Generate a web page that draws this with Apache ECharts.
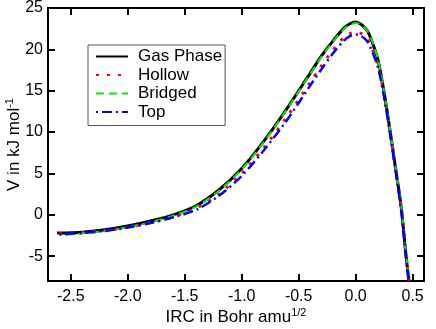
<!DOCTYPE html>
<html>
<head>
<meta charset="utf-8">
<script src="https://cdn.jsdelivr.net/npm/echarts@6/dist/echarts.min.js"></script>
<style>
  html, body { margin: 0; padding: 0; background: #fff; }
  #chart { width: 436px; height: 329px; }
</style>
</head>
<body>
<div id="chart"></div>
<script>
var chart = echarts.init(document.getElementById('chart'));

// IRC coordinate (Bohr amu^1/2)
var ircGas    = [-2.62, -2.4, -2.2, -2.0, -1.8, -1.6, -1.4, -1.2, -1.0, -0.8, -0.6, -0.4, -0.3, -0.2, -0.1, -0.05, 0.0, 0.05, 0.1, 0.15, 0.2, 0.25, 0.3, 0.35, 0.4, 0.44, 0.468];
var vGas      = [-2.2, -2.1, -1.8, -1.35, -0.75, 0.0, 1.1, 3.0, 5.6, 9.0, 12.9, 17.1, 19.2, 21.0, 22.6, 23.1, 23.3, 23.0, 22.3, 20.7, 18.5, 14.8, 10.4, 5.7, 0.9, -4.6, -8.0];

var ircHollow = [-2.6, -2.4, -2.2, -2.0, -1.8, -1.6, -1.4, -1.2, -1.0, -0.8, -0.6, -0.4, -0.3, -0.2, -0.1, -0.05, 0.0, 0.05, 0.1, 0.15, 0.2, 0.25, 0.3, 0.35, 0.4, 0.44, 0.468];
var vHollow   = [-2.3, -2.15, -1.9, -1.5, -0.95, -0.2, 0.8, 2.5, 5.0, 8.2, 11.9, 16.0, 18.0, 19.9, 21.5, 21.9, 22.1, 21.9, 21.3, 19.9, 17.9, 14.5, 10.2, 5.6, 0.8, -4.6, -8.0];

var ircBridged = [-2.55, -2.4, -2.2, -2.0, -1.8, -1.6, -1.4, -1.2, -1.0, -0.8, -0.6, -0.4, -0.3, -0.2, -0.1, -0.05, 0.0, 0.05, 0.1, 0.15, 0.2, 0.25, 0.3, 0.35, 0.4, 0.44, 0.47];
var vBridged   = [-2.4, -2.25, -1.95, -1.5, -0.9, -0.1, 1.0, 2.9, 5.5, 8.9, 12.8, 17.0, 19.1, 20.9, 22.5, 23.0, 23.2, 23.0, 22.3, 20.8, 18.6, 14.9, 10.5, 5.8, 1.1, -4.4, -8.0];

var ircTop    = [-2.6, -2.4, -2.2, -2.0, -1.8, -1.6, -1.4, -1.2, -1.0, -0.8, -0.6, -0.4, -0.3, -0.2, -0.1, -0.05, 0.0, 0.05, 0.1, 0.15, 0.2, 0.25, 0.3, 0.35, 0.4, 0.44, 0.466];
var vTop      = [-2.35, -2.2, -1.95, -1.55, -1.0, -0.3, 0.6, 2.3, 4.7, 7.9, 11.5, 15.6, 17.6, 19.5, 21.1, 21.6, 21.8, 21.6, 21.0, 19.6, 17.6, 14.2, 10.0, 5.4, 0.6, -4.8, -8.0];

var names = ['Gas Phase', 'Hollow', 'Bridged', 'Top'];

function pairs(xs, ys) {
    var res = [];
    for (var i = 0; i < xs.length; i++) {
        res.push([xs[i], ys[i]]);
    }
    return res;
}

var font = 'Liberation Sans, Arial, Helvetica, sans-serif';

var axisCommon = {
    axisLine: { show: true, onZero: false, lineStyle: { color: '#000', width: 2 } },
    axisTick: { show: true, inside: true, length: 7, lineStyle: { color: '#000', width: 2 } },
    splitLine: { show: false },
    minorTick: { show: false },
    nameMoveOverlap: false
};

var option = {
    animation: false,
    grid: { left: 48, top: 8, right: 12, bottom: 48, containLabel: false, outerBoundsMode: 'none' },
    legend: {
        data: names,
        orient: 'vertical',
        left: 88,
        top: 45,
        padding: [3, 3, 5, 7],
        itemWidth: 32,
        itemHeight: 14,
        itemGap: 1.5,
        backgroundColor: '#fff',
        borderColor: '#555',
        borderWidth: 1,
        selectedMode: false,
        itemStyle: { opacity: 0 },
        textStyle: { fontFamily: font, fontSize: 17, color: '#000', padding: [0, 0, 0, 5] }
    },
    xAxis: [
        Object.assign({}, axisCommon, {
            type: 'value',
            position: 'bottom',
            min: -2.7,
            max: 0.6,
            name: '{a|IRC in Bohr amu}{s|1/2}',
            nameLocation: 'middle',
            nameGap: 26,
            nameTextStyle: {
                rich: {
                    a: { fontFamily: font, fontSize: 17, color: '#000' },
                    s: { fontFamily: font, fontSize: 11, color: '#000', verticalAlign: 'top', padding: [0, 0, 9, 0] }
                }
            },
            axisLabel: {
                fontFamily: font, fontSize: 16, color: '#000', margin: 8,
                showMinLabel: false, showMaxLabel: false,
                formatter: function (v) { return v.toFixed(1); }
            }
        }),
        Object.assign({}, axisCommon, {
            type: 'value',
            position: 'top',
            min: -2.7,
            max: 0.6,
            axisLabel: { show: false }
        })
    ],
    yAxis: [
        Object.assign({}, axisCommon, {
            type: 'value',
            position: 'left',
            min: -8,
            max: 25,
            name: '{a|V in kJ mol}{s|-1}',
            nameLocation: 'middle',
            nameGap: 24,
            nameRotate: 90,
            nameTextStyle: {
                rich: {
                    a: { fontFamily: font, fontSize: 17, color: '#000' },
                    s: { fontFamily: font, fontSize: 11, color: '#000', verticalAlign: 'top', padding: [0, 0, 9, 0] }
                }
            },
            axisLabel: {
                fontFamily: font, fontSize: 16, color: '#000', margin: 5,
                showMinLabel: false
            }
        }),
        Object.assign({}, axisCommon, {
            type: 'value',
            position: 'right',
            min: -8,
            max: 25,
            axisLabel: { show: false }
        })
    ],
    series: [
        {
            name: 'Gas Phase', type: 'line', showSymbol: false, symbol: 'none', smooth: 0.3,
            data: pairs(ircGas, vGas),
            lineStyle: { color: '#000', width: 3 },
            itemStyle: { color: '#000' }
        },
        {
            name: 'Hollow', type: 'line', showSymbol: false, symbol: 'none', smooth: 0.3,
            data: pairs(ircHollow, vHollow),
            lineStyle: { color: '#ff0000', width: 3, type: [3, 8] },
            itemStyle: { color: '#ff0000' }
        },
        {
            name: 'Bridged', type: 'line', showSymbol: false, symbol: 'none', smooth: 0.3,
            data: pairs(ircBridged, vBridged),
            lineStyle: { color: '#00ee00', width: 2, type: [8, 5] },
            itemStyle: { color: '#00ee00' }
        },
        {
            name: 'Top', type: 'line', showSymbol: false, symbol: 'none', smooth: 0.3,
            data: pairs(ircTop, vTop),
            lineStyle: { color: '#0000ff', width: 2.5, type: [2, 4, 10, 4] },
            itemStyle: { color: '#0000ff' }
        }
    ]
};

chart.setOption(option);
</script>
</body>
</html>
